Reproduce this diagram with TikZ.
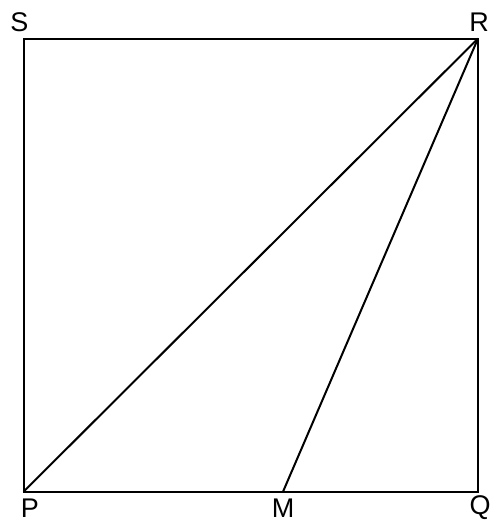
\documentclass[tikz,border=0pt]{standalone}
\usepackage{fontspec}
\setmainfont{Liberation Sans}
\begin{document}
\begin{tikzpicture}[x=1pt,y=-1pt,
  edge/.style={line width=2pt,line join=miter},
  lbl/.style={inner sep=0pt,font=\fontsize{27}{32}\selectfont}]
\useasboundingbox (0,0) rectangle (504,531);
\coordinate (S) at (23.5,38.5);
\coordinate (R) at (478,38.5);
\coordinate (P) at (23.5,491.7);
\coordinate (Q) at (478,491.7);
\coordinate (M) at (283,491.7);
\draw[edge] (P) -- (Q) -- (R) -- (S) -- cycle;
\draw[edge] (P) -- (R);
\draw[edge] (M) -- (R);
\node[lbl] (lS) at (19.5,22.5) {S};
\node[lbl] (lR) at (479,22.5) {R};
\node[lbl] (lP) at (30,508) {P};
\node[lbl] (lM) at (283,508) {M};
\node[lbl] (lQ) at (480,508) {Q};
\end{tikzpicture}
\end{document}
